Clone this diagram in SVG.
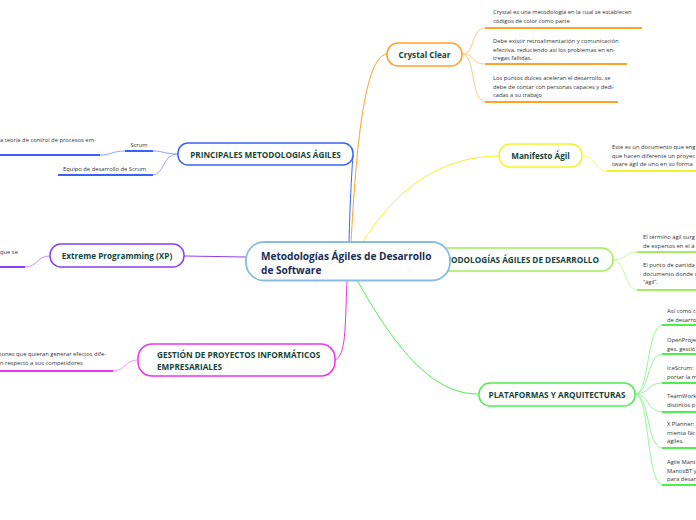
<svg xmlns="http://www.w3.org/2000/svg" width="696" height="520" viewBox="0 0 696 520">
<style>
.bg{fill:#ffffff}
.node{fill:#ffffff;stroke-width:1.5}
.nt{font-family:"Open Sans","Noto Sans",sans-serif;font-weight:bold;font-size:8.2px;fill:#14453a}
.ct{font-family:"Open Sans","Noto Sans",sans-serif;font-weight:bold;font-size:10.1px;fill:#1a2d55}
.t{font-family:"Open Sans","Noto Sans",sans-serif;font-size:5.8px;fill:#333333}
.c{fill:none;stroke-width:1}
.u{fill:none;stroke-width:2}
.or{stroke:#ffa12b}.orl{stroke:#ffc985}
.ye{stroke:#f3f32a}.yel{stroke:#f7f77a}
.bl{stroke:#3a63f5}.bll{stroke:#8aa6ff}
.pu{stroke:#8a40ec}.pul{stroke:#bb99f5}
.lg{stroke:#a3ec5c}.lgl{stroke:#c8f5a0}
.mg{stroke:#ee33ee}.mgl{stroke:#f59af5}
.gr{stroke:#4def4d}.grl{stroke:#99f599}
</style>
<rect class="bg" x="0" y="0" width="696" height="520"/>
<g id="connectors">
<path class="c or" d="M351,243 C356,150 364,56 387,54" stroke-width="1.6"/>
<path class="c bl" d="M349,243 C350,200 352,168 353,155" stroke-width="1.6"/>
<path class="c ye" d="M362,243 C395,190 440,156 499,156" stroke-width="1.4"/>
<path class="c pu" d="M184,256 L246,257" stroke-width="1.6"/>
<path class="c mg" d="M347,280 C345,330 346,355 335,360" stroke-width="1.6"/>
<path class="c gr" d="M357,280 C392,342 430,395 479,394" stroke-width="1.4"/>
<path class="c orl" d="M462,54 C476,54 470,28 486,28"/>
<path class="c orl" d="M462,54 C476,54 470,64 486,64"/>
<path class="c orl" d="M462,54 C476,54 470,102 486,102"/>
<path class="u or" d="M485,28 L642,28"/>
<path class="u or" d="M485,64 L627,64"/>
<path class="u or" d="M485,102 L618,102"/>
<path class="c yel" d="M582,156 C598,156 592,171 609,171"/>
<path class="u ye" d="M607,171 L696,171"/>
<path class="c bll" d="M178,154 C165,154 163,151 153,151"/>
<path class="u bl" d="M125,151 L153,151"/>
<path class="c bll" d="M125,151 C112,151 112,155 100,155"/>
<path class="u bl" d="M0,155 L100,155"/>
<path class="c bll" d="M178,154 C162,154 165,175 152,175"/>
<path class="u bl" d="M58,175 L153,175"/>
<path class="c pul" d="M50,256 C36,256 38,267 25,267"/>
<path class="u pu" d="M0,267 L25,267"/>
<path class="c lgl" d="M613,260 C626,260 624,252 638,252"/>
<path class="c lgl" d="M613,260 C626,260 624,290 638,290"/>
<path class="u lg" d="M637,252 L696,252"/>
<path class="u lg" d="M637,290 L696,290"/>
<path class="c mgl" d="M138,360 C124,360 126,371 113,371"/>
<path class="u mg" d="M0,371 L113,371"/>
<path class="c grl" d="M635,394 C650,394 646,325 663,325"/>
<path class="c grl" d="M635,394 C650,394 646,354 663,354"/>
<path class="c grl" d="M635,394 C650,394 646,383 663,383"/>
<path class="c grl" d="M635,394 C650,394 646,412 663,412"/>
<path class="c grl" d="M635,394 C650,394 646,448 663,448"/>
<path class="c grl" d="M635,394 C650,394 646,485 663,485"/>
<path class="u gr" d="M662,325 L696,325"/>
<path class="u gr" d="M662,354 L696,354"/>
<path class="u gr" d="M662,383 L696,383"/>
<path class="u gr" d="M662,412 L696,412"/>
<path class="u gr" d="M662,448 L696,448"/>
<path class="u gr" d="M662,485 L696,485"/>
</g>
<g id="n-crystal-1"><text class="t" x="493" y="14">Crystal es una metodología en la cual se establecen</text><text class="t" x="493" y="23">códigos de color como parte</text></g>
<g id="n-crystal-2"><text class="t" x="493" y="43">Debe existir retroalimentación y comunicación</text><text class="t" x="493" y="51.5">efectiva, reduciendo así los problemas en en-</text><text class="t" x="493" y="60">tregas fallidas.</text></g>
<g id="n-crystal-3"><text class="t" x="493" y="80">Los puntos dulces aceleran el desarrollo, se</text><text class="t" x="493" y="88.5">debe de contar con personas capaces y dedi-</text><text class="t" x="493" y="97">cadas a su trabajo</text></g>
<g id="n-manifesto-1"><text class="t" x="612" y="149">Este es un documento que eng</text><text class="t" x="612" y="157.5">que hacen diferente un proyec</text><text class="t" x="612" y="166">tware ágil de uno en su forma</text></g>
<g id="n-scrum-1"><text class="t" x="0" y="142">a teoría de control de procesos em-</text></g>
<g id="n-scrum"><text class="t" x="139" y="147" text-anchor="middle">Scrum</text></g>
<g id="n-equipo"><text class="t" x="63" y="171">Equipo de desarrollo de Scrum</text></g>
<g id="n-xp-1"><text class="t" x="0" y="254">que se</text></g>
<g id="n-met-1"><text class="t" x="643" y="239">El término ágil surg</text><text class="t" x="643" y="247.5">de expertos en el á</text></g>
<g id="n-met-2"><text class="t" x="643" y="267">El punto de partida</text><text class="t" x="643" y="275.5">documento donde s</text><text class="t" x="643" y="284">“ágil”.</text></g>
<g id="n-gestion-1"><text class="t" x="0" y="356">iones que quieran generar efectos dife-</text><text class="t" x="0" y="365">n respecto a sus competidores</text></g>
<g id="n-plat-1"><text class="t" x="667" y="313">Así como c</text><text class="t" x="667" y="321.5">de desarro</text></g>
<g id="n-plat-2"><text class="t" x="667" y="342">OpenProje</text><text class="t" x="667" y="350.5">ges, gestió</text></g>
<g id="n-plat-3"><text class="t" x="667" y="370">IceScrum:</text><text class="t" x="667" y="378.5">portar la m</text></g>
<g id="n-plat-4"><text class="t" x="667" y="398">TeamWork</text><text class="t" x="667" y="406.5">distintos p</text></g>
<g id="n-plat-5"><text class="t" x="667" y="426">X Planner:</text><text class="t" x="667" y="434.5">mienta fác</text><text class="t" x="667" y="443">ágiles.</text></g>
<g id="n-plat-6"><text class="t" x="667" y="464">Agile Mant</text><text class="t" x="667" y="472.5">MantisBT y</text><text class="t" x="667" y="481">para desar</text></g>
<g id="n-crystal"><rect class="node or" x="387" y="43" width="75" height="23" rx="11"/><text class="nt" x="424.5" y="58" text-anchor="middle">Crystal Clear</text></g>
<g id="n-manifesto"><rect class="node ye" x="499" y="144" width="83" height="23" rx="11"/><text class="nt" x="540.5" y="159" text-anchor="middle">Manifesto Ágil</text></g>
<g id="n-principales"><rect class="node bl" x="178" y="143" width="175" height="22" rx="10"/><text class="nt" x="265.5" y="157.5" text-anchor="middle">PRINCIPALES METODOLOGIAS ÁGILES</text></g>
<g id="n-xp"><rect class="node pu" x="50" y="244" width="134" height="23" rx="11"/><text class="nt" x="117" y="259" text-anchor="middle">Extreme Programming (XP)</text></g>
<g id="n-metodologias"><rect class="node lg" x="420" y="248" width="193" height="23" rx="11"/><text class="nt" x="599" y="263" text-anchor="end">METODOLOGÍAS ÁGILES DE DESARROLLO</text></g>
<g id="n-gestion"><rect class="node mg" x="138" y="344" width="197" height="32" rx="14"/><text class="nt" x="157" y="357.5">GESTIÓN DE PROYECTOS INFORMÁTICOS</text><text class="nt" x="157" y="369.5">EMPRESARIALES</text></g>
<g id="n-plataformas"><rect class="node gr" x="479" y="383" width="156" height="23" rx="11"/><text class="nt" x="557" y="398" text-anchor="middle">PLATAFORMAS Y ARQUITECTURAS</text></g>
<g id="n-central"><rect x="246" y="242" width="204" height="38.5" rx="18" fill="#ffffff" stroke="#86bde4" stroke-width="1.8"/><text class="ct" x="261" y="259.5">Metodologías Ágiles de Desarrollo</text><text class="ct" x="261" y="274">de Software</text></g>
</svg>
